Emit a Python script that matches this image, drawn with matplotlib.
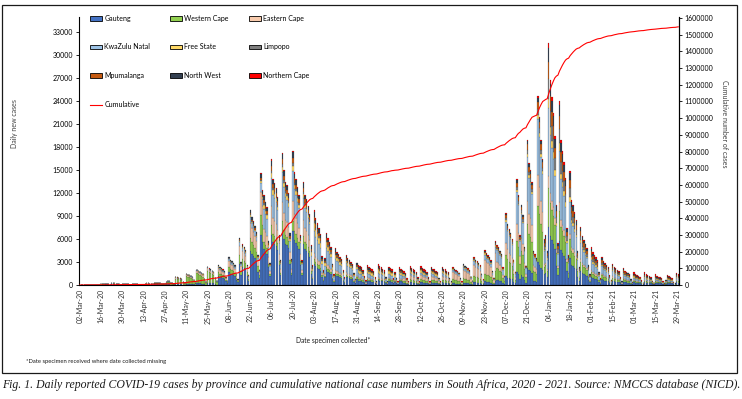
import numpy as np
import pandas as pd
import matplotlib
matplotlib.use("Agg")
import matplotlib.pyplot as plt
from matplotlib.patches import Patch, Rectangle
from matplotlib.lines import Line2D

plt.rcParams['font.family'] = ['Lato', 'DejaVu Sans']

start_date = "2020-03-02"

# daily new cases (all provinces), one row per week, Monday to Sunday
daily_total = [
    0, 0, 1, 2, 3, 2, 4,
    8, 12, 15, 20, 30, 25, 20,
    70, 90, 110, 140, 160, 100, 60,
    220, 240, 200, 190, 150, 70, 50,
    90, 110, 120, 110, 100, 50, 30,
    120, 130, 110, 90, 50, 40, 40,
    60, 180, 200, 210, 190, 110, 70,
    280, 300, 320, 310, 220, 150, 100,
    150, 420, 480, 500, 300, 250, 180,
    1100, 990, 935, 860, 770, 440, 220,
    1500, 1350, 1275, 1170, 1050, 600, 300,
    2000, 1800, 1700, 1560, 1400, 800, 400,
    2400, 2160, 2040, 1870, 1680, 960, 480,
    2600, 2340, 2210, 2030, 1820, 1040, 520,
    3700, 3330, 3150, 2890, 2590, 1480, 740,
    6200, 3000, 5300, 5000, 4600, 2600, 1300,
    9800, 8900, 8300, 7700, 6900, 3900, 2000,
    14600, 12400, 11700, 10900, 10200, 5800, 2900,
    16400, 13900, 13300, 12700, 11500, 6500, 3300,
    17300, 15000, 13500, 13000, 12000, 6800, 3400,
    17500, 14700, 13800, 12800, 11800, 6500, 3200,
    13400, 11800, 11200, 10300, 9300, 5200, 2600,
    9800, 8700, 8100, 7500, 6700, 3800, 1900,
    3500, 6800, 6100, 5600, 5000, 2800, 1400,
    4800, 4300, 4100, 3700, 3400, 1900, 1000,
    3900, 3500, 3300, 3000, 2700, 1600, 800,
    2900, 2600, 2500, 2300, 2000, 1200, 600,
    2600, 2350, 2200, 2050, 1800, 1050, 520,
    2700, 2450, 2300, 2100, 1900, 1100, 540,
    2400, 2200, 2050, 900, 1700, 950, 480,
    2300, 2100, 1950, 1800, 1600, 900, 460,
    2500, 2250, 2100, 1950, 1750, 1000, 500,
    2500, 2250, 2100, 1950, 1750, 1000, 500,
    2400, 2150, 2050, 1850, 1700, 950, 480,
    2400, 2150, 2050, 1850, 1700, 950, 480,
    2300, 2100, 1950, 1800, 1600, 900, 460,
    2800, 2500, 2400, 2200, 1950, 1100, 560,
    3700, 3300, 3150, 2900, 2600, 1500, 740,
    4600, 4150, 3900, 3600, 3200, 1850, 920,
    5800, 5200, 4900, 4500, 4050, 2300, 1150,
    9400, 8000, 7300, 6800, 6000, 3300, 1700,
    13800, 11800, 6500, 10500, 9200, 5000, 2500,
    19000, 15900, 15000, 13500, 4500, 4000, 3500,
    24700, 22000, 19000, 16500, 6000, 6500, 4500,
    31600, 26800, 24500, 22500, 19500, 10500, 5500,
    24000, 18900, 17500, 16000, 14000, 7500, 3900,
    14900, 11100, 10500, 9500, 8500, 4500, 2400,
    7600, 6400, 5900, 5400, 4800, 2600, 1400,
    5000, 4250, 3900, 3600, 3200, 1750, 900,
    3700, 3150, 2900, 2650, 2350, 1300, 670,
    2800, 2400, 2200, 2000, 1800, 1000, 500,
    2200, 1870, 1700, 1600, 1400, 770, 400,
    1700, 1450, 1330, 1220, 1090, 600, 310,
    1650, 1400, 1290, 1190, 1050, 580, 300,
    1400, 1200, 1100, 1000, 900, 490, 250,
    700, 1300, 1150, 1050, 900, 450, 230,
    1600, 1400,
]

provinces = ["Gauteng", "Western Cape", "Eastern Cape", "KwaZulu Natal", "Free State",
             "Limpopo", "Mpumalanga", "North West", "Northern Cape"]
colors = ["#4472C4", "#92D050", "#F8CBAD", "#9DC3E6", "#FFD966",
          "#7F7F7F", "#C55A11", "#333F50", "#FF0000"]

# share of the daily cases per province, by month (Mar-20 ... Mar-21)
gauteng = [.55, .25, .12, .45, .40, .28, .22, .15, .10, .12, .24, .20, .22]
western_cape = [.22, .50, .65, .18, .08, .06, .08, .14, .22, .30, .16, .14, .12]
eastern_cape = [.02, .10, .15, .20, .15, .08, .08, .22, .40, .16, .05, .06, .05]
kwazulu_natal = [.14, .12, .05, .08, .22, .30, .22, .14, .14, .30, .28, .26, .16]
free_state = [.05, .01, .01, .02, .04, .10, .15, .12, .04, .02, .04, .06, .12]
limpopo = [.01, .005, .005, .01, .02, .03, .03, .02, .02, .03, .08, .07, .05]
mpumalanga = [.005, .005, .005, .02, .04, .06, .06, .04, .02, .04, .07, .09, .08]
north_west = [.0025, .005, .005, .035, .04, .06, .08, .07, .03, .02, .06, .06, .07]
northern_cape = [.0025, .005, .005, .005, .01, .03, .08, .10, .03, .01, .02, .06, .13]

shares = np.array([gauteng, western_cape, eastern_cape, kwazulu_natal, free_state,
                   limpopo, mpumalanga, north_west, northern_cape])
shares = shares / shares.sum(axis=0)

dates = pd.date_range(start_date, periods=len(daily_total), freq="D")
month_idx = (dates.year - 2020) * 12 + dates.month - 3
total = np.array(daily_total, dtype=float)
x = np.arange(len(total))

fig = plt.figure(figsize=(7.42, 3.99), dpi=100)
ax = fig.add_axes([79 / 742, 1 - 285 / 399, 600 / 742, 268 / 399])

bottom = np.zeros(len(total))
for i, name in enumerate(provinces):
    vals = total * shares[i, month_idx]
    ax.bar(x, vals, bottom=bottom, width=0.9, color=colors[i],
           edgecolor="#2b2b2b", linewidth=0.12)
    bottom += vals

ax.set_xlim(-0.5, len(total) - 0.5)
ax.set_ylim(0, 35000)
ax.set_yticks(np.arange(0, 33001, 3000))
ax.tick_params(axis="y", labelsize=5, length=2.2, width=0.6, pad=2)
ax.set_xticks(x[::14])
ax.set_xticklabels([d.strftime("%d-%b-%y") for d in dates[::14]], rotation=90,
                   fontsize=5, color="#333333")
ax.tick_params(axis="x", length=0, pad=3)
ax.spines["top"].set_visible(False)
for s in ["left", "bottom", "right"]:
    ax.spines[s].set_linewidth(0.8)

ax2 = ax.twinx()
ax2.plot(x, np.cumsum(total), color="red", lw=0.8)
ax2.set_ylim(0, 1600000 / 267 * 268)
ax2.set_yticks(np.arange(0, 1600001, 100000))
ax2.set_yticklabels([str(v) for v in range(0, 1600001, 100000)])
ax2.tick_params(axis="y", labelsize=5, length=2.2, width=0.6, pad=2)
ax2.spines["top"].set_visible(False)
ax2.spines["right"].set_linewidth(0.8)
ax2.spines["left"].set_visible(False)
ax2.spines["bottom"].set_visible(False)

fig.text(15 / 742, 1 - 124 / 399, "Daily new cases", rotation=90, ha="center",
         va="center", fontsize=5, color="#404040")
fig.text(724 / 742, 1 - 124 / 399, "Cumulative number of cases", rotation=270,
         ha="center", va="center", fontsize=5, color="#404040")
fig.text(333 / 742, 1 - 340 / 399, "Date specimen collected*", ha="center",
         va="center", fontsize=4.8, color="#1a1a1a")
fig.text(26 / 742, 1 - 361 / 399, "*Date specimen received where date collected missing",
         ha="left", va="center", fontsize=4.2, color="#1a1a1a")

handles = [Patch(facecolor=c, edgecolor="black", linewidth=0.6) for c in colors]
line_h = Line2D([0], [0], color="red", lw=0.8)
order = [0, 3, 6, None, 1, 4, 7, 2, 5, 8]
h_list = [line_h if o is None else handles[o] for o in order]
l_list = ["Cumulative" if o is None else provinces[o] for o in order]
fig.legend(h_list, l_list, ncol=3, loc="upper left",
           bbox_to_anchor=(90 / 742, 1 - 14.5 / 399), bbox_transform=fig.transFigure,
           frameon=False, fontsize=5, handlelength=1.75, handleheight=0.7,
           handletextpad=0.3, columnspacing=2.9, labelspacing=3.15,
           borderpad=0, borderaxespad=0)

fig.patches.append(Rectangle((1.5 / 742, 1 - 373 / 399), 735 / 742, 368.5 / 399,
                             transform=fig.transFigure, fill=False,
                             edgecolor="#1a1a1a", linewidth=0.9))

caption = fig.text(0.5, 1 - 385 / 399,
                   "Fig. 1. Daily reported COVID-19 cases by province and cumulative national case "
                   "numbers in South Africa, 2020 - 2021. Source: NMCCS database (NICD).",
                   ha="center", va="center", family="Liberation Serif", style="italic",
                   fontsize=9, color="#1a1a1a")
# shrink the caption so it spans the width of the box
renderer = fig.canvas.get_renderer()
w = caption.get_window_extent(renderer).width
caption.set_fontsize(9 * 733 / w)

fig.savefig("out.png", dpi=100)
